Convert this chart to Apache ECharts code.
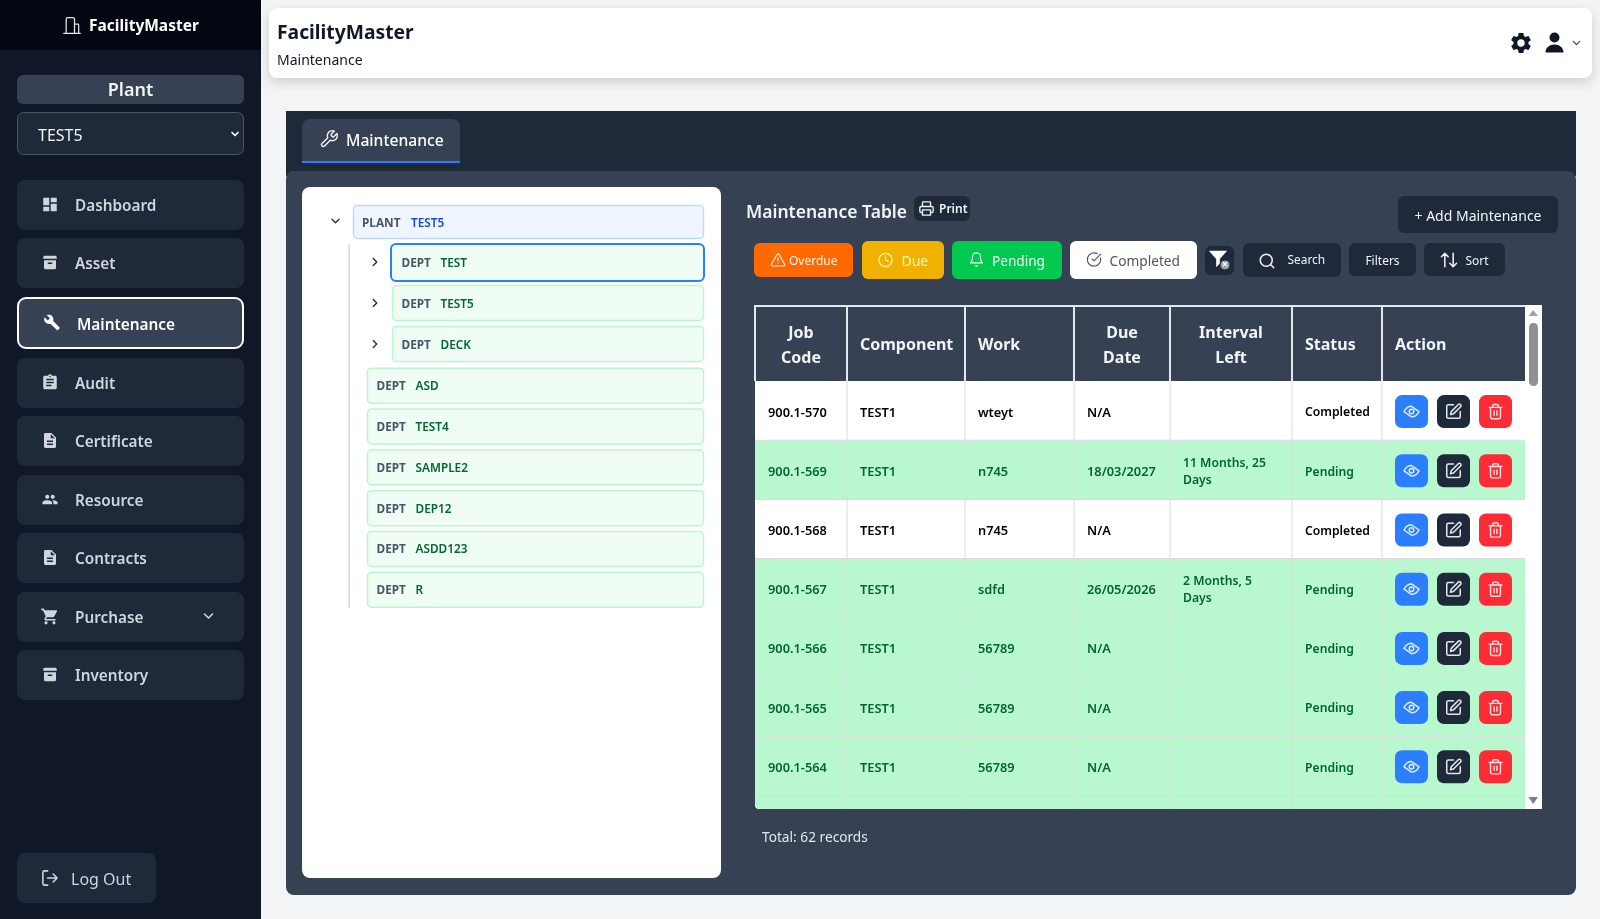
<!DOCTYPE html>
<html>
<head>
<meta charset="utf-8">
<title>FacilityMaster</title>
<script src="https://cdn.jsdelivr.net/npm/echarts@6/dist/echarts.min.js"></script>
<style>
  html, body { margin: 0; padding: 0; background: #f3f4f6; }
  #main { width: 1600px; height: 919px; }
</style>
</head>
<body>
<div id="main"></div>
<script>
// page text and table values
const appName = 'FacilityMaster'
const pageName = 'Maintenance'
const plantLabel = 'Plant'
const plantName = 'TEST5'
const menuLabels = ['Dashboard', 'Asset', 'Maintenance', 'Audit', 'Certificate', 'Resource', 'Contracts', 'Purchase', 'Inventory']
const menuIconNames = ['dashboard', 'archive', 'build', 'assignment', 'description', 'people', 'description', 'cart', 'archive']
const deptNames = ['TEST', 'TEST5', 'DECK', 'ASD', 'TEST4', 'SAMPLE2', 'DEP12', 'ASDD123', 'R']
const tableHeaders = ['Job\nCode', 'Component', 'Work', 'Due\nDate', 'Interval\nLeft', 'Status', 'Action']
const jobCodes = ['900.1-570', '900.1-569', '900.1-568', '900.1-567', '900.1-566', '900.1-565', '900.1-564', '']
const components = ['TEST1', 'TEST1', 'TEST1', 'TEST1', 'TEST1', 'TEST1', 'TEST1', '']
const works = ['wteyt', 'n745', 'n745', 'sdfd', '56789', '56789', '56789', '']
const dueDates = ['N/A', '18/03/2027', 'N/A', '26/05/2026', 'N/A', 'N/A', 'N/A', '']
const intervalsLeft = ['', '11 Months, 25\nDays', '', '2 Months, 5\nDays', '', '', '', '']
const statuses = ['Completed', 'Pending', 'Completed', 'Pending', 'Pending', 'Pending', 'Pending', 'Pending']
const totalText = 'Total: 62 records'

// icon outlines, 24 unit box
const icons = {
  dashboard: 'M3 13h8V3H3v10zm0 8h8v-6H3v6zm10 0h8V11h-8v10zm0-18v6h8V3h-8z',
  archive: 'M5 3h14a2 2 0 0 1 2 2v2H3V5a2 2 0 0 1 2-2zM4 9h16v10a2 2 0 0 1-2 2H6a2 2 0 0 1-2-2V9zm5 3v2h6v-2H9z',
  build: 'M22.7 19l-9.1-9.1c.9-2.3.4-5-1.5-6.9-2-2-5-2.4-7.4-1.3L9 6 6 9 1.6 4.7C.4 7.1.9 10.1 2.9 12.1c1.9 1.9 4.6 2.4 6.9 1.5l9.1 9.1c.4.4 1 .4 1.4 0l2.3-2.3c.5-.4.5-1.1.1-1.4z',
  assignment: 'M19 3h-4.18C14.4 1.84 13.3 1 12 1c-1.3 0-2.4.84-2.82 2H5c-1.1 0-2 .9-2 2v14c0 1.1.9 2 2 2h14c1.1 0 2-.9 2-2V5c0-1.1-.9-2-2-2zm-7 0c.55 0 1 .45 1 1s-.45 1-1 1-1-.45-1-1 .45-1 1-1zm2 14H7v-2h7v2zm3-4H7v-2h10v2zm0-4H7V7h10v2z',
  description: 'M14 2H6c-1.1 0-1.99.9-1.99 2L4 20c0 1.1.89 2 1.99 2H18c1.1 0 2-.9 2-2V8l-6-6zm2 16H8v-2h8v2zm0-4H8v-2h8v2zm-3-5V3.5L18.5 9H13z',
  people: 'M16 11c1.66 0 2.99-1.34 2.99-3S17.66 5 16 5c-1.66 0-3 1.34-3 3s1.34 3 3 3zm-8 0c1.66 0 2.99-1.34 2.99-3S9.66 5 8 5C6.34 5 5 6.34 5 8s1.34 3 3 3zm0 2c-2.33 0-7 1.17-7 3.5V19h14v-2.5c0-2.33-4.67-3.5-7-3.5zm8 0c-.29 0-.62.02-.97.05 1.16.84 1.97 1.97 1.97 3.45V19h6v-2.5c0-2.33-4.67-3.5-7-3.5z',
  cart: 'M7 18c-1.1 0-1.99.9-1.99 2S5.9 22 7 22s2-.9 2-2-.9-2-2-2zM1 2v2h2l3.6 7.59-1.35 2.45c-.16.28-.25.61-.25.96 0 1.1.9 2 2 2h12v-2H7.42c-.14 0-.25-.11-.25-.25l.03-.12.9-1.63h7.45c.75 0 1.41-.41 1.75-1.03l3.58-6.49c.08-.15.12-.33.12-.49 0-.55-.45-1-1-1H5.21l-.94-2H1zm16 16c-1.1 0-1.99.9-1.99 2s.89 2 1.99 2 2-.9 2-2-.9-2-2-2z',
  gear: 'M19.14 12.94c.04-.3.06-.61.06-.94 0-.32-.02-.64-.07-.94l2.03-1.58c.18-.14.23-.41.12-.61l-1.92-3.32c-.12-.22-.37-.29-.59-.22l-2.39.96c-.5-.38-1.03-.7-1.62-.94l-.36-2.54c-.04-.24-.24-.41-.48-.41h-3.84c-.24 0-.43.17-.47.41l-.36 2.54c-.59.24-1.13.57-1.62.94l-2.39-.96c-.22-.08-.47 0-.59.22L2.74 8.87c-.12.21-.08.47.12.61l2.03 1.58c-.05.3-.09.63-.09.94s.02.64.07.94l-2.03 1.58c-.18.14-.23.41-.12.61l1.92 3.32c.12.22.37.29.59.22l2.39-.96c.5.38 1.03.7 1.62.94l.36 2.54c.05.24.24.41.48.41h3.84c.24 0 .44-.17.47-.41l.36-2.54c.59-.24 1.13-.56 1.62-.94l2.39.96c.22.08.47 0 .59-.22l1.92-3.32c.12-.22.07-.47-.12-.61l-2.01-1.58zM12 15.6c-1.98 0-3.6-1.62-3.6-3.6s1.62-3.6 3.6-3.6 3.6 1.62 3.6 3.6-1.62 3.6-3.6 3.6z',
  user: 'M12 2a5 5 0 1 1 0 10a5 5 0 0 1 0-10zM3 22c0-5 4-8 9-8s9 3 9 8H3z',
  funnel: 'M2 3h20l-8 9v5l-4 4v-9z',
  down: 'M6 9l6 6 6-6',
  right: 'M9 6l6 6-6 6',
  wrench: 'M14.7 6.3a1 1 0 0 0 0 1.4l1.6 1.6a1 1 0 0 0 1.4 0l3.77-3.77a6 6 0 0 1-7.94 7.94l-6.91 6.91a2.12 2.12 0 0 1-3-3l6.91-6.91a6 6 0 0 1 7.94-7.94l-3.76 3.76z',
  alert: 'M21.73 18l-8-14a2 2 0 0 0-3.48 0l-8 14A2 2 0 0 0 4 21h16a2 2 0 0 0 1.73-3zM12 9v4M12 17h.01',
  clock: 'M12 2a10 10 0 1 1 0 20a10 10 0 0 1 0-20zM12 6v6l4 2',
  bell: 'M6 8a6 6 0 0 1 12 0c0 7 3 9 3 9H3s3-2 3-9M10.3 21a1.94 1.94 0 0 0 3.4 0',
  check: 'M21.8 10A10 10 0 1 1 17 3.34M9 11l3 3L22 4',
  search: 'M11 3a8 8 0 1 1 0 16a8 8 0 0 1 0-16zM21 21l-4.3-4.3',
  sort: 'M21 16l-4 4-4-4M17 20V4M3 8l4-4 4 4M7 4v16',
  printer: 'M6 18H4a2 2 0 0 1-2-2v-5a2 2 0 0 1 2-2h16a2 2 0 0 1 2 2v5a2 2 0 0 1-2 2h-2M6 9V3a1 1 0 0 1 1-1h10a1 1 0 0 1 1 1v6M6 14h12v8H6z',
  eye: 'M2 12s3.5-7 10-7 10 7 10 7-3.5 7-10 7-10-7-10-7zM12 9a3 3 0 1 1 0 6a3 3 0 0 1 0-6z',
  edit: 'M12 3H5a2 2 0 0 0-2 2v14a2 2 0 0 0 2 2h14a2 2 0 0 0 2-2v-7M18.4 2.6a2.1 2.1 0 0 1 3 3L12 15l-4 1 1-4z',
  trash: 'M3 6h18M19 6v14a2 2 0 0 1-2 2H7a2 2 0 0 1-2-2V6M8 6V4a2 2 0 0 1 2-2h4a2 2 0 0 1 2 2v2M10 11v6M14 11v6',
  logout: 'M9 21H5a2 2 0 0 1-2-2V5a2 2 0 0 1 2-2h4M16 17l5-5-5-5M21 12H9',
  building: 'M2 22h20M5 22V5a2 2 0 0 1 2-2h6a2 2 0 0 1 2 2v17M15 11h4a1 1 0 0 1 1 1v10'
}
// the graphic component has no plain path type, so each icon gets its own shape
Object.keys(icons).forEach(function (name) {
  echarts.graphic.registerShape('icon_' + name, echarts.graphic.extendPath(icons[name]))
})

const FONT = "'Noto Sans', sans-serif"
const font = (weight, size) => weight + ' ' + size + 'px ' + FONT

function box(x, y, w, h, fill, r, stroke, lineWidth, extra) {
  return {
    type: 'rect',
    shape: { x: x, y: y, width: w, height: h, r: r || 0 },
    style: Object.assign({ fill: fill, stroke: stroke || null, lineWidth: lineWidth || 0 }, extra || {})
  }
}

function label(text, x, y, f, fill, align) {
  return {
    type: 'text',
    style: { text: text, x: x, y: y, font: f, fill: fill, align: align || 'left', verticalAlign: 'middle' }
  }
}

// filled icon when lineWidth is left out, stroked otherwise
function icon(name, cx, cy, size, color, lineWidth) {
  const k = size / 24
  return {
    type: 'icon_' + name,
    x: cx - size / 2,
    y: cy - size / 2,
    scaleX: k,
    scaleY: k,
    style: lineWidth
      ? { fill: null, stroke: color, lineWidth: lineWidth, lineCap: 'round', lineJoin: 'round' }
      : { fill: color }
  }
}

const els = []

// sidebar
const menuTops = [180, 238, 297, 358, 416, 475, 533, 592, 650]
const menuIconSizes = { dashboard: 18, archive: 18, build: 17, assignment: 18, description: 18, people: 16.5, cart: 19 }
els.push(box(0, 0, 261, 919, '#101828'))
els.push(box(0, 0, 261, 50, '#030712'))
els.push(icon('building', 72, 25, 20, '#e5e7eb', 1.5))
els.push(label(appName, 89, 27, font(700, 15.5), '#ffffff'))
els.push(box(17, 75, 227, 29, '#364153', 6))
els.push(label(plantLabel, 130.5, 91, font(600, 18), '#f3f4f6', 'center'))
els.push(box(17.5, 112.5, 226, 42, '#1e2939', 6, '#4a5565', 1))
els.push(label(plantName, 38, 136, font(400, 16), '#f3f4f6'))
els.push(icon('down', 235, 134, 12, '#f3f4f6', 3.4))
menuLabels.forEach(function (name, i) {
  const y = menuTops[i]
  const active = name === pageName
  const h = active ? 52 : 50
  if (active) els.push(box(18, y + 1, 225, h - 2, '#364153', 8, '#ffffff', 2))
  else els.push(box(17, y, 227, h, '#1e2939', 8))
  const c = active ? '#ffffff' : '#d1d5dc'
  els.push(icon(menuIconNames[i], active ? 52 : 50, y + h / 2 - 0.5, menuIconSizes[menuIconNames[i]], c))
  els.push(label(name, active ? 77 : 75, y + h / 2 + (active ? 3 : 2), font(600, active ? 15.4 : 15.3), c))
  if (name === 'Purchase') els.push(icon('down', 208.5, y + 24, 16, '#d1d5dc', 2.4))
})
els.push(box(17, 853, 139, 50, '#1e2939', 8))
els.push(icon('logout', 50, 878, 19, '#d1d5dc', 2))
els.push(label('Log Out', 71, 880, font(400, 16), '#d1d5dc'))

// header card
els.push(box(269, 8, 1323, 70, '#ffffff', 8, null, 0, { shadowBlur: 12, shadowOffsetY: 4, shadowColor: 'rgba(0,0,0,0.16)' }))
els.push(label(appName, 277, 34, font(700, 19.3), '#101828'))
els.push(label(pageName, 277, 61, font(400, 14), '#101828'))
els.push(icon('gear', 1521, 43, 25, '#101828'))
els.push(icon('user', 1554.5, 42.5, 24, '#101828'))
els.push(icon('down', 1576.5, 43, 13, '#364153', 2.2))

// main panel and tab
els.push(box(286, 111, 1290, 65, '#1e2939'))
els.push(box(286, 171, 1290, 724, '#364153', 8))
els.push(box(302, 119, 158, 44, '#364153', [8, 8, 0, 0]))
els.push(box(302, 161, 158, 2, '#2b7fff'))
els.push(icon('wrench', 329, 139, 20, '#f3f4f6', 1.7))
els.push(label(pageName, 346, 142, font(500, 15.7), '#ffffff'))

// plant tree
const treeCenters = [262, 303, 344, 385.7, 426.5, 467.3, 508.2, 549, 589.8]
els.push(box(302, 187, 419, 691, '#ffffff', 8))
els.push(icon('down', 335.5, 221, 14, '#1e2939', 2.2))
els.push(box(353.5, 205.5, 350, 33, '#eff6ff', 4, '#bedbff', 1.5))
els.push(label('PLANT', 362, 224, font(700, 11.8), '#4a5565'))
els.push(label(plantName, 411, 224, font(600, 11.8), '#1447e6'))
els.push(box(348.5, 244, 1.5, 364, '#d1d5dc'))
deptNames.forEach(function (name, i) {
  const cy = treeCenters[i]
  const nested = i < 3
  const x = nested ? 392 : 367
  if (i === 0) els.push(box(391, 244, 313, 37, '#f0fdf4', 5, '#2b7fff', 2))
  else els.push(box(x + 0.5, cy - 17.5, 703 - x, 35, '#f0fdf4', 4, '#b9f8cf', 1.5))
  if (nested) els.push(icon('right', 375, cy, 14, '#1e2939', 2.2))
  els.push(label('DEPT', x + 9.5, cy + (nested ? 2 : 1), font(700, 11.8), '#4a5565'))
  els.push(label(name, x + 48.5, cy + (nested ? 2 : 1), font(600, 11.8), '#016630'))
})

// table title and toolbar
els.push(label('Maintenance Table', 746, 213, font(600, 17.5), '#f3f4f6'))
els.push(box(914, 196, 56, 25, '#1e2939', 6))
els.push(icon('printer', 926.5, 208.5, 16, '#f3f4f6', 2))
els.push(label('Print', 939, 209.5, font(600, 12), '#f3f4f6'))
els.push(box(1398, 196, 160, 37, '#1e2939', 6))
els.push(label('+ Add Maintenance', 1478, 217, font(400, 14), '#f3f4f6', 'center'))

els.push(box(754, 243, 99, 34, '#ff6900', 6))
els.push(icon('alert', 778, 260, 16, '#fff7ed', 1.7))
els.push(label('Overdue', 789, 261.5, font(400, 12), '#fff7ed'))
els.push(box(862, 241, 82, 38, '#f0b100', 6))
els.push(icon('clock', 885.5, 260, 16, '#fef9c2', 1.7))
els.push(label('Due', 901.5, 262.5, font(400, 14), '#fef9c2'))
els.push(box(952, 241, 110, 38, '#00c950', 6))
els.push(icon('bell', 976.5, 259.5, 16, '#f0fdf4', 1.7))
els.push(label('Pending', 992, 262.5, font(400, 13.6), '#f0fdf4'))
els.push(box(1070, 241, 127, 38, '#ffffff', 6))
els.push(icon('check', 1094, 259.5, 16, '#4a5565', 1.7))
els.push(label('Completed', 1109.5, 262.5, font(400, 13.7), '#4a5565'))

els.push(box(1205, 246, 29, 29, '#1e2939', 6))
els.push(icon('funnel', 1218, 259, 22, '#ffffff'))
els.push({ type: 'circle', shape: { cx: 1225, cy: 265, r: 5 }, style: { fill: '#99a1af', stroke: '#1e2939', lineWidth: 1 } })
els.push(label('×', 1225, 265, font(700, 11), '#ffffff', 'center'))

els.push(box(1243, 243, 98, 34, '#1e2939', 6))
els.push(icon('search', 1267, 261, 18, '#f3f4f6', 2))
els.push(label('Search', 1287.5, 260.5, font(400, 11.9), '#f3f4f6'))
els.push(box(1349, 243, 67, 33, '#1e2939', 6))
els.push(label('Filters', 1382.5, 261.5, font(400, 12), '#f3f4f6', 'center'))
els.push(box(1424, 243, 81, 33, '#1e2939', 6))
els.push(icon('sort', 1449, 260, 20, '#f3f4f6', 1.8))
els.push(label('Sort', 1465.5, 261.5, font(400, 12), '#f3f4f6'))

// table frame and scrollbar
els.push(box(755, 305, 787, 504, '#ffffff', [4, 0, 0, 4]))
els.push({ type: 'polygon', shape: { points: [[1528.5, 316], [1538, 316], [1533.2, 310]] }, style: { fill: '#a3a3a3' } })
els.push(box(1529, 323, 9, 63, '#909090', 4.5))
els.push({ type: 'polygon', shape: { points: [[1528.5, 797], [1538, 797], [1533.2, 804]] }, style: { fill: '#7f7f7f' } })

els.push(label(totalText, 762, 838.5, font(400, 13.7), '#e5e7eb'))

// table drawn as a custom series: x axis counts px across the table, y axis counts rows
const columnEdges = [0, 92, 210, 319, 415, 537, 627, 770]
const headerRows = 75 / 59.2
const visibleRows = 428 / 59.2
const rowColumns = [jobCodes, components, works, dueDates, intervalsLeft, statuses]
// narrower type in the two columns that ran wide
const cellFontSizes = [12.8, 12.8, 12.8, 12.8, 12.2, 12.2]
const cells = []
tableHeaders.forEach(function (h, c) { cells.push([c, -1]) })
jobCodes.forEach(function (code, r) {
  columnEdges.slice(1).forEach(function (e, c) { cells.push([c, r]) })
})

function renderCell(params, api) {
  const c = api.value(0)
  const r = api.value(1)
  const isHeader = r < 0
  const tl = api.coord([columnEdges[c], isHeader ? -headerRows : r])
  const br = api.coord([columnEdges[c + 1], isHeader ? 0 : Math.min(r + 1, visibleRows)])
  const w = br[0] - tl[0]
  const h = br[1] - tl[1]
  const midY = tl[1] + 59.2 / 2
  const kids = []
  if (isHeader) {
    const text = tableHeaders[c]
    const centred = text.indexOf('\n') >= 0
    kids.push(box(tl[0], tl[1], w, h, '#364153'))
    kids.push(box(tl[0] - 1, tl[1] - 1, 2, h + 1, '#e5e7eb'))
    kids.push(box(tl[0], tl[1] - 1, w, 2, '#e5e7eb'))
    const t = label(text, centred ? tl[0] + w / 2 : tl[0] + 13, tl[1] + h / 2 + 2, font(700, 16), '#f3f4f6', centred ? 'center' : 'left')
    t.style.lineHeight = 25
    kids.push(t)
    return { type: 'group', children: kids }
  }
  const pending = statuses[r] === 'Pending'
  const fg = pending ? '#016630' : '#000000'
  const corner = c === 0 && r === 7 ? [0, 0, 0, 6] : 0
  kids.push(box(tl[0], tl[1], w, h, pending ? '#b9f8cf' : '#ffffff', corner))
  if (c > 0) kids.push(box(tl[0] - 0.5, tl[1], 1, h, '#d8dce2'))
  if (r > 0) kids.push(box(tl[0], tl[1] - 0.5, w, 1, '#d8dce2'))
  if (c < 6) {
    const text = rowColumns[c][r]
    // last row is cut by the scroll box, its text is out of sight
    if (text && r < 7) {
      const t = label(text, tl[0] + 13, midY + 2.3, font(600, cellFontSizes[c]), fg)
      t.style.lineHeight = 17
      kids.push(t)
    }
  } else if (r < 7) {
    const bx = tl[0] + 13
    const cy = midY + 1
    const by = cy - 16.5
    kids.push(box(bx, by, 33, 33, '#2b7fff', 7))
    kids.push(icon('eye', bx + 16.5, cy, 18, '#dbeafe', 2))
    kids.push(box(bx + 42, by, 33, 33, '#1e2939', 7))
    kids.push(icon('edit', bx + 58.5, cy, 18, '#e5e7eb', 2))
    kids.push(box(bx + 84, by, 33, 33, '#fb2c36', 7))
    kids.push(icon('trash', bx + 100.5, cy, 17, '#ffe2e2', 2))
  }
  return { type: 'group', children: kids }
}

const chart = echarts.init(document.getElementById('main'), null, { renderer: 'canvas' })
chart.setOption({
  animation: false,
  backgroundColor: '#f3f4f6',
  tooltip: { show: false },
  graphic: { elements: els },
  grid: { left: 755, top: 306, width: 770, height: 503 },
  xAxis: { type: 'value', min: 0, max: 770, show: false },
  yAxis: { type: 'value', min: -headerRows, max: visibleRows, inverse: true, show: false },
  series: [{
    type: 'custom',
    coordinateSystem: 'cartesian2d',
    encode: { x: 0, y: 1 },
    data: cells,
    z: 10,
    silent: true,
    renderItem: renderCell
  }]
})
</script>
</body>
</html>
